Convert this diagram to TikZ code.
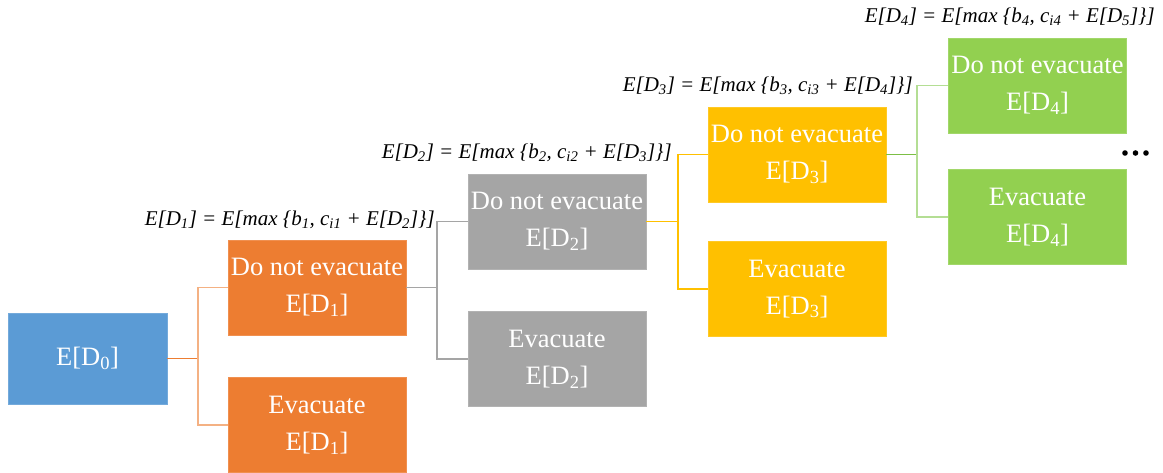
\documentclass[tikz,border=0pt]{standalone}
\usepackage{fontspec}
\setmainfont{Liberation Serif}
\usetikzlibrary{calc}
\definecolor{cblue}{HTML}{5B9BD5}
\definecolor{corange}{HTML}{ED7D31}
\definecolor{corangel}{HTML}{F4B183}
\definecolor{cgray}{HTML}{A5A5A5}
\definecolor{cyellow}{HTML}{FFC000}
\definecolor{cgreen}{HTML}{92D050}
\definecolor{cgreenl}{HTML}{B4DE94}
\definecolor{cgreend}{HTML}{7CBF45}
\tikzset{
  box/.style={minimum width=178pt, minimum height=95pt, inner sep=0pt,
    text=white, align=center, font=\fontsize{26.5}{37}\selectfont},
  eqn/.style={anchor=east, inner sep=0pt, font=\fontsize{21}{24}\selectfont\itshape},
  link/.style={line width=1.5pt},
}
\newcommand{\ED}[1]{E[D\textsubscript{#1}]}
\begin{document}
\begin{tikzpicture}[x=1pt,y=1pt]
\useasboundingbox (0,0) rectangle (1163,472);
% image y is measured downward: y = 472 - row
% decision boxes
\node[box, fill=cblue, draw=cblue!85!white, minimum width=159pt, minimum height=91pt] (d0) at (87.5,113.5) {\ED{0}};
\node[box, fill=corange, draw=corange!85!white] (o1) at (317,184.5) {Do not evacuate\\\ED{1}};
\node[box, fill=corange, draw=corange!85!white] (o2) at (317,47) {Evacuate\\\ED{1}};
\node[box, fill=cgray, draw=cgray!85!white] (g1) at (557,250.5) {Do not evacuate\\\ED{2}};
\node[box, fill=cgray, draw=cgray!85!white] (g2) at (557,113) {Evacuate\\\ED{2}};
\node[box, fill=cyellow, draw=cyellow!85!white] (y1) at (797,317.5) {Do not evacuate\\\ED{3}};
\node[box, fill=cyellow, draw=cyellow!85!white] (y2) at (797,183) {Evacuate\\\ED{3}};
\node[box, fill=cgreen, draw=cgreen!85!white] (n1) at (1037.5,386.5) {Do not evacuate\\\ED{4}};
\node[box, fill=cgreen, draw=cgreen!85!white] (n2) at (1037.5,255) {Evacuate\\\ED{4}};
% branching points
\coordinate (j0) at (198,113.5);
\coordinate (j1) at (437,184.5);
\coordinate (j2) at (678,250.5);
\coordinate (j3) at (917,317.5);
% connectors
\draw[link, corange] (d0.east) -- (j0);
\draw[link, corangel] (o1.west) -- (o1.west -| j0) -- (o2.west -| j0) -- (o2.west);
\draw[link, cgray] (o1.east) -- (j1);
\draw[link, cgray] (g1.west) -- (g1.west -| j1) -- (g2.west -| j1) -- (g2.west);
\draw[link, cyellow] (g1.east) -- (j2);
\draw[link, cyellow] (y1.west) -- (y1.west -| j2) -- (y2.west -| j2) -- (y2.west);
\draw[link, cgreend] (y1.east) -- (j3);
\draw[link, cgreenl] (n1.west) -- (n1.west -| j3) -- (n2.west -| j3) -- (n2.west);
% recursion formulas
\node[eqn] (e1) at ($(g1.west -| j1)+(-2,2)$) {\ED{1} = E[max \{b\textsubscript{1}, c\textsubscript{i1} + \ED{2}\}]};
\node[eqn] (e2) at ($(y1.west -| j2)+(-6,2)$) {\ED{2} = E[max \{b\textsubscript{2}, c\textsubscript{i2} + \ED{3}\}]};
\node[eqn] (e3) at ($(n1.west -| j3)+(-4,0)$) {\ED{3} = E[max \{b\textsubscript{3}, c\textsubscript{i3} + \ED{4}\}]};
\node[eqn] (e4) at (1155,455) {\ED{4} = E[max \{b\textsubscript{4}, c\textsubscript{i4} + \ED{5}\}]};
% continuation dots
\foreach \dx in {1125,1135.5,1146}
  \fill (\dx,319) circle (2.8pt);
\end{tikzpicture}
\end{document}
